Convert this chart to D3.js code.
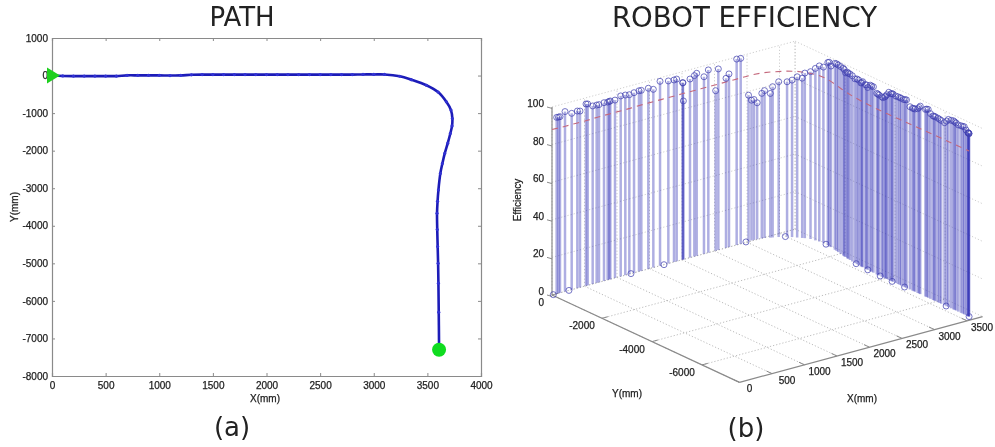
<!DOCTYPE html>
<html lang="en">
<head>
  <meta charset="UTF-8">
  <title>Path and robot efficiency</title>
  <style>
    html, body { margin: 0; background: #fff; }
    svg { display: block; filter: blur(0.55px); }
    text { font-family: "Liberation Sans", Arial, sans-serif; font-size: 10px; fill: #222; stroke: #222; stroke-width: 0.25px; }
    text.big { font-family: "DejaVu Sans", sans-serif; font-size: 26px; stroke: none; fill: #222; }
  </style>
</head>
<body>
<script src="https://cdn.jsdelivr.net/npm/d3@7"></script>
<script>
const width = 995, height = 447

// path of the robot
const pathX = [0,100,200,300,400,500,600,700,800,900,1000,1100,1200,1300,1400,1500,1600,1700,1800,1900,2000,2100,2200,2300,2400,2500,2600,2700,2800,2900,3000,3100,3243,3350,3491,3600,3677,3720,3733,3730,3714,3690,3662,3640,3621,3603,3595,3590,3592,3596,3600,3603,3606,3609,3609]
const pathY = [0,-10,-15,-15,-15,-15,-15,5,5,5,5,0,5,20,25,25,25,25,25,25,25,25,25,25,25,25,25,25,25,30,30,30,-19,-110,-258,-440,-700,-920,-1144,-1340,-1542,-1800,-2074,-2340,-2605,-3048,-3350,-3668,-4100,-4554,-5000,-5528,-6300,-7212,-7300]
const xTicks2d = [0,500,1000,1500,2000,2500,3000,3500,4000]
const yTicks2d = [1000,0,-1000,-2000,-3000,-4000,-5000,-6000,-7000,-8000]

// efficiency stems
const stemX = [72,123,100,200,303,390,431,523,549,626,687,723,800,856,880,897,969,1057,1128,1190,1262,1338,1374,1482,1559,1662,1790,1877,1918,2010,2015,2021,2123,2190,2226,2338,2405,2518,2559,2677,2723,2841,2903,
  3035,3080,3115,3160,3222,3258,3322,3348,3416,3505,3545,3586,3626,3647,3685,3703,3718,3733,3724,3716,3698,3681,3657,3650,3637,3630,3622,3615,3610,3606,3603,3601,3598,3596,3593,3590,3590,3591,3591,3592,3592,3593,3594,3594,3595,3596,3596,3597,3598,3599,3600,3600,3601,3602,3603,3603,3603,3604,3604,3605,3605,3606,3606,3606,3607,3607,3607,3608,3608,3608,3609,3609,
  3710,3690,3668,3650,3640,3612,3604,3600,3595,3591,3592,3594,3596,3598,3600,3602,3603,3604,3605,3606,3607,3608,3609,3609,3609,
  20,261,1215,1723,2995,3491,3727,3614,3599,3591,3594,3597,3606,3609]
const stemY = [0,0,0,0,0,0,0,0,0,0,0,0,0,0,0,0,0,0,0,0,0,0,0,0,0,0,0,0,0,0,0,0,0,0,0,0,0,0,0,0,0,0,0,
  30,30,20,10,-15,-30,-95,-120,-185,-290,-385,-483,-580,-630,-760,-907,-1025,-1150,-1350,-1500,-1700,-1878,-2140,-2250,-2390,-2480,-2595,-2720,-2880,-2980,-3060,-3172,-3275,-3380,-3515,-3655,-3745,-3850,-3900,-3976,-4050,-4130,-4210,-4296,-4400,-4490,-4620,-4710,-4825,-4960,-5060,-5160,-5265,-5365,-5570,-5680,-5770,-5870,-5970,-6065,-6195,-6325,-6480,-6590,-6680,-6785,-6875,-6980,-7110,-7180,-7250,-7300,
  -1440,-1790,-2010,-2200,-2350,-2810,-3020,-3220,-3440,-3700,-4010,-4250,-4560,-4770,-5110,-5320,-5620,-5920,-6130,-6410,-6730,-7050,-7270,-7280,-7290,
  0,0,0,0,30,-258,-1270,-2770,-3275,-3790,-4260,-4750,-6390,-7300]
const stemZ = [93.8,93.7,93.7,95.7,93.8,94.2,93.8,96.7,96.5,94.7,94.6,94.5,94.8,94.6,94.7,94.8,94.6,96,95.8,95.4,95.8,96.1,96,96.1,94.8,98.1,97.1,96.8,96.9,94.1,94,84.3,95,96.2,97.1,94.2,97.2,85.1,96.3,90.2,92.1,98.9,98.7,
  77.7,74.6,74.7,72.6,77.2,78.4,76.7,80.2,82.6,82.4,83.5,85.5,85,87.8,89,91.5,93.4,93.4,97.2,96.3,99.1,99.5,99.6,98,98.7,99,98.8,98,98.4,97.5,98.7,97.8,97,98.9,98.9,96.3,96,95.7,95.5,96.4,98,99.8,99.5,99.9,99.5,99.6,99.6,99.5,100,97.2,97,97.2,98,100,99.5,100.2,98.5,97.9,98,97.9,97.5,97.1,99.8,100,100.3,99.8,99.3,99.5,99.8,98.5,97.5,97.3,
  98,99.5,99.6,99.4,99,98.5,98,98,98.8,96.2,97,99.8,99.6,99.8,97.2,99,100,98,97.7,98.5,100,99.6,97.5,97.4,97.3,
  0,0,0,0,0,0,0,0,0,0,0,0,0,0]
const meanEfficiency = 88
const xTicks3d = [0,500,1000,1500,2000,2500,3000,3500]
const yTicks3d = [0,-2000,-4000,-6000]
const zTicks3d = [0,20,40,60,80,100]
const xMax3d = 3740, yMin3d = -7500

const svg = d3.select("body").append("svg")
  .attr("width", width).attr("height", height)

svg.append("rect").attr("width", width).attr("height", height).attr("fill", "#fff")

// ---- panel (a)
const x2d = d3.scaleLinear().domain([0, 4000]).range([52, 481])
const y2d = d3.scaleLinear().domain([-8000, 1000]).range([376, 38])
const a = svg.append("g")

function styleAxis(g) {
  g.selectAll("path").attr("stroke", "#8a8a8a").attr("stroke-width", 1.2)
  g.selectAll("line").attr("stroke", "#8a8a8a")
}

a.append("g").attr("transform", "translate(0,376)")
  .call(d3.axisBottom(x2d).tickValues(xTicks2d).tickSize(-3).tickPadding(6).tickFormat(String))
  .call(styleAxis)
a.append("g").attr("transform", "translate(0,38)")
  .call(d3.axisTop(x2d).tickValues(xTicks2d).tickSize(-3).tickFormat(""))
  .call(styleAxis)
a.append("g").attr("transform", "translate(52,0)")
  .call(d3.axisLeft(y2d).tickValues(yTicks2d).tickSize(-3).tickPadding(4).tickFormat(String))
  .call(styleAxis)
a.append("g").attr("transform", "translate(481,0)")
  .call(d3.axisRight(y2d).tickValues(yTicks2d).tickSize(-3).tickFormat(""))
  .call(styleAxis)
a.selectAll(".domain").attr("stroke-width", 1.2)
a.selectAll("g").attr("font-family", null).attr("font-size", null)

const line2d = d3.line().x((d, i) => x2d(pathX[i])).y((d, i) => y2d(pathY[i])).curve(d3.curveCatmullRom)
a.append("path").datum(pathX).attr("d", line2d)
  .attr("fill", "none").attr("stroke", "#1c1cb8").attr("stroke-width", 2.6)
a.selectAll("circle.pt").data(pathX).enter().append("circle")
  .attr("cx", (d, i) => x2d(pathX[i])).attr("cy", (d, i) => y2d(pathY[i]))
  .attr("r", 1.6).attr("fill", "#3232d4")

a.append("path")
  .attr("transform", `translate(${x2d(0)},${y2d(0)})`)
  .attr("d", "M-5,-8 L8,0 L-5,8 Z").attr("fill", "#1fd01f")
a.append("circle")
  .attr("cx", x2d(pathX[pathX.length - 1])).attr("cy", y2d(pathY[pathY.length - 1]))
  .attr("r", 7).attr("fill", "#10dc20")

a.append("text").attr("x", 265).attr("y", 402).attr("text-anchor", "middle").text("X(mm)")
a.append("text").attr("transform", "translate(18,207) rotate(-90)").attr("text-anchor", "middle").text("Y(mm)")
a.append("text").attr("class", "big").attr("x", 242).attr("y", 26).attr("text-anchor", "middle").text("PATH")
a.append("text").attr("class", "big").attr("x", 232).attr("y", 436).attr("text-anchor", "middle").text("(a)")

// ---- panel (b), fixed oblique view built from linear scales
const xPx = d3.scaleLinear().domain([0, 3500]).range([0, 227.5])
const xPy = d3.scaleLinear().domain([0, 3500]).range([0, -61.6])
const yPx = d3.scaleLinear().domain([0, -7500]).range([0, 187.5])
const yPy = d3.scaleLinear().domain([0, -7500]).range([0, 87.4])
const zPy = d3.scaleLinear().domain([0, 100]).range([0, -188])
const px = (x, y) => 552 + xPx(x) + yPx(y)
const py = (x, y, z) => 295 + xPy(x) + yPy(y) + zPy(z)

const b = svg.append("g")

function seg(g, p, q, stroke, w, dash) {
  g.append("line")
    .attr("x1", px(p[0], p[1])).attr("y1", py(p[0], p[1], p[2]))
    .attr("x2", px(q[0], q[1])).attr("y2", py(q[0], q[1], q[2]))
    .attr("stroke", stroke).attr("stroke-width", w)
    .attr("stroke-dasharray", dash || null)
}

const grid = b.append("g")
const gridCol = "#b4b4b4", wallCol = "#c8c8c8", gridDash = "1.2 2"
zTicks3d.forEach(z => {
  seg(grid, [0, 0, z], [xMax3d, 0, z], wallCol, 0.9, gridDash)
  seg(grid, [xMax3d, 0, z], [xMax3d, yMin3d, z], wallCol, 0.9, gridDash)
})
xTicks3d.forEach(x => {
  seg(grid, [x, 0, 0], [x, yMin3d, 0], gridCol, 0.9, gridDash)
  seg(grid, [x, 0, 0], [x, 0, 100], wallCol, 0.9, gridDash)
})
yTicks3d.forEach(y => {
  seg(grid, [0, y, 0], [xMax3d, y, 0], gridCol, 0.9, gridDash)
  seg(grid, [xMax3d, y, 0], [xMax3d, y, 100], wallCol, 0.9, gridDash)
})
seg(grid, [xMax3d, 0, 0], [xMax3d, 0, 100], wallCol, 0.9, gridDash)

// solid axes
const axisCol = "#8a8a8a"
seg(b, [0, 0, 0], [0, 0, 100], axisCol, 1.2)
seg(b, [0, 0, 0], [0, yMin3d, 0], axisCol, 1.2)
seg(b, [0, yMin3d, 0], [xMax3d, yMin3d, 0], axisCol, 1.2)

// ticks and their labels
zTicks3d.forEach(z => {
  b.append("line").attr("x1", px(0, 0) - 5).attr("x2", px(0, 0))
    .attr("y1", py(0, 0, z)).attr("y2", py(0, 0, z) + 1.4)
    .attr("stroke", axisCol)
  b.append("text").attr("x", px(0, 0) - 8).attr("y", py(0, 0, z))
    .attr("text-anchor", "end").text(z)
})
yTicks3d.forEach(y => {
  seg(b, [0, y, 0], [90, y, 0], axisCol, 1)
  b.append("text").attr("x", px(0, y) - 8).attr("y", py(0, y, 0) + 11)
    .attr("text-anchor", y === 0 ? "end" : "middle")
    .attr("dx", y === 0 ? 0 : -12).text(y)
})
xTicks3d.forEach(x => {
  seg(b, [x, yMin3d, 0], [x, yMin3d + 220, 0], axisCol, 1)
  b.append("text").attr("x", px(x, yMin3d) + (x === 0 ? 10 : 15)).attr("y", py(x, yMin3d, 0) + 10)
    .attr("text-anchor", "middle").text(x)
})

// red dashed mean line along the path
const line3d = d3.line().x((d, i) => px(pathX[i], pathY[i])).y((d, i) => py(pathX[i], pathY[i], meanEfficiency))

b.selectAll("line.stem").data(stemX).enter().append("line")
  .attr("class", "stem")
  .attr("x1", (d, i) => px(stemX[i], stemY[i])).attr("x2", (d, i) => px(stemX[i], stemY[i]))
  .attr("y1", (d, i) => py(stemX[i], stemY[i], 0)).attr("y2", (d, i) => py(stemX[i], stemY[i], stemZ[i]))
  .attr("stroke", "#2a2ab4").attr("stroke-width", 2.5).attr("stroke-opacity", 0.38)

b.append("path").datum(pathX).attr("d", line3d)
  .attr("fill", "none").attr("stroke", "#c4687c").attr("stroke-width", 1.1).attr("stroke-dasharray", "6 5")

b.selectAll("circle.top").data(stemX).enter().append("circle")
  .attr("class", "top")
  .attr("cx", (d, i) => px(stemX[i], stemY[i])).attr("cy", (d, i) => py(stemX[i], stemY[i], stemZ[i]))
  .attr("r", 3).attr("fill", "none").attr("stroke", "#4040b0").attr("stroke-width", 0.9).attr("stroke-opacity", 0.8)

b.append("text").attr("x", 627).attr("y", 397).attr("text-anchor", "middle").text("Y(mm)")
b.append("text").attr("x", 862).attr("y", 402).attr("text-anchor", "middle").text("X(mm)")
b.append("text").attr("transform", "translate(521,200) rotate(-90)").attr("text-anchor", "middle").text("Efficiency")
b.append("text").attr("class", "big").attr("x", 744.5).attr("y", 27).attr("text-anchor", "middle").style("font-size", "27.6px").text("ROBOT EFFICIENCY")
b.append("text").attr("class", "big").attr("x", 746).attr("y", 437).attr("text-anchor", "middle").text("(b)")
</script>
</body>
</html>
